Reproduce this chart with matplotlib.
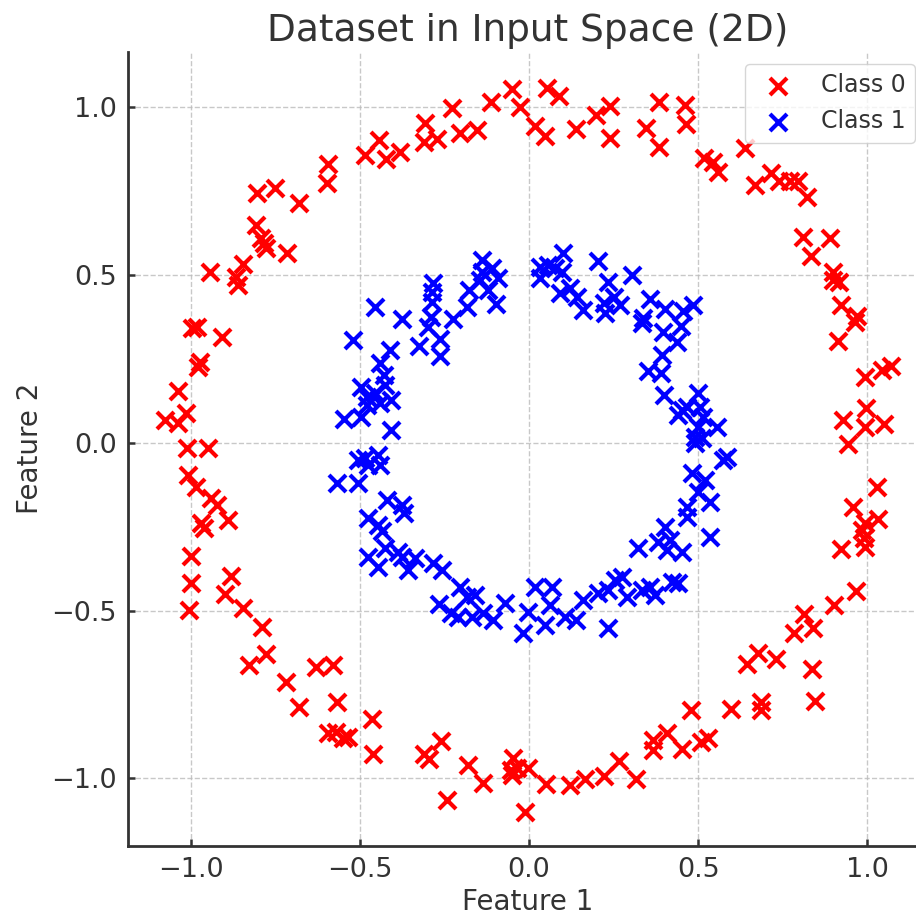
import matplotlib.pyplot as plt
import numpy as np

# Class 0 (outer ring)
class0_x = [
    -0.050, -0.027, 0.018, 0.047, 0.053, 0.089, 0.139, 0.198, 0.239, 0.239,
    0.346, 0.384, 0.384, 0.461, 0.464, 0.517, 0.544, 0.558, 0.638, 0.668,
    0.715, 0.739, 0.771, 0.795, 0.821, 0.809, 0.889, 0.833, 0.898, 0.898,
    0.916, 0.922, 0.969, 0.963, 0.913, 0.993, 1.043, 1.069, 0.996, 0.928,
    0.993, 1.049, 0.942, 1.028, 0.957, 1.031, 0.993, 0.984, 0.990, 0.993,
    0.922, 0.966, 0.901, 0.812, 0.839, 0.783, 0.836, 0.845, 0.644, 0.677,
    0.730, 0.685, 0.685, 0.597, 0.479, 0.508, 0.529, 0.452, 0.408, 0.366,
    0.366, 0.316, 0.266, 0.222, 0.165, 0.121, 0.050, -0.012, -0.003, -0.047,
    -0.053, -0.035, -0.050, -0.136, -0.180, -0.242, -0.260, -0.310, -0.295, -0.461,
    -0.464, -0.535, -0.549, -0.570, -0.594, -0.567, -0.579, -0.629, -0.679, -0.718,
    -0.777, -0.827, -0.789, -0.845, -1.004, -0.898, -0.880, -0.999, -0.999, -0.889,
    -0.969, -0.960, -0.922, -0.939, -0.984, -1.007, -1.010, -0.948, -1.075, -1.037,
    -1.013, -1.037, -0.972, -0.978, -0.907, -0.996, -0.981, -0.860, -0.866, -0.845,
    -0.942, -0.715, -0.777, -0.783, -0.792, -0.807, -0.679, -0.804, -0.750, -0.594,
    -0.597, -0.484, -0.443, -0.422, -0.381, -0.310, -0.307, -0.272, -0.227, -0.204,
    -0.154, -0.112,
]
class0_y = [
    1.055, 1.001, 0.945, 0.915, 1.058, 1.034, 0.936, 0.978, 1.004, 0.909,
    0.939, 1.016, 0.882, 1.007, 0.951, 0.849, 0.838, 0.808, 0.879, 0.769,
    0.805, 0.781, 0.781, 0.781, 0.733, 0.614, 0.611, 0.557, 0.510, 0.486,
    0.480, 0.411, 0.379, 0.361, 0.304, 0.197, 0.218, 0.230, 0.104, 0.069,
    0.048, 0.057, -0.002, -0.131, -0.191, -0.227, -0.238, -0.259, -0.283, -0.310,
    -0.316, -0.441, -0.483, -0.510, -0.551, -0.566, -0.674, -0.769, -0.659, -0.626,
    -0.644, -0.772, -0.796, -0.793, -0.796, -0.891, -0.879, -0.912, -0.864, -0.885,
    -0.915, -1.001, -0.948, -0.993, -1.001, -1.019, -1.016, -1.100, -0.969, -0.939,
    -0.975, -0.969, -0.990, -1.013, -0.960, -1.064, -0.888, -0.927, -0.942, -0.927,
    -0.823, -0.876, -0.879, -0.861, -0.864, -0.772, -0.662, -0.668, -0.787, -0.712,
    -0.629, -0.662, -0.548, -0.492, -0.498, -0.450, -0.396, -0.417, -0.337, -0.230,
    -0.239, -0.253, -0.185, -0.164, -0.131, -0.095, -0.015, -0.015, 0.069, 0.060,
    0.089, 0.155, 0.241, 0.227, 0.316, 0.343, 0.346, 0.471, 0.495, 0.534,
    0.510, 0.566, 0.581, 0.596, 0.611, 0.650, 0.715, 0.745, 0.760, 0.832,
    0.775, 0.858, 0.903, 0.846, 0.867, 0.897, 0.954, 0.906, 0.998, 0.924,
    0.933, 1.016,
]

# Class 1 (inner ring)
class1_x = [
    -0.547, -0.496, -0.520, -0.455, -0.375, -0.408, -0.496, -0.479, -0.479, -0.455,
    -0.440, -0.425, -0.428, -0.440, -0.411, -0.408, -0.325, -0.298, -0.263, -0.263,
    -0.290, -0.287, -0.287, -0.284, -0.225, -0.183, -0.177, -0.139, -0.139, -0.109,
    -0.092, -0.145, -0.121, -0.097, 0.032, 0.056, 0.077, 0.100, 0.097, 0.032,
    0.092, 0.121, 0.142, 0.160, 0.204, 0.233, 0.304, 0.222, 0.225, 0.251,
    0.269, 0.337, 0.334, 0.357, 0.402, 0.455, 0.484, 0.449, 0.396, 0.437,
    0.393, 0.352, 0.390, 0.399, 0.452, 0.467, 0.440, 0.499, 0.505, 0.514,
    0.499, 0.555, 0.490, 0.511,
    -0.567, -0.505, -0.505, -0.484, -0.446, -0.476, -0.440, -0.419, -0.375, -0.369,
    -0.476, -0.446, -0.434, -0.476, -0.446, -0.425, -0.387, -0.375, -0.357, -0.337,
    -0.284, -0.257, -0.266, -0.230, -0.210, -0.204, -0.183, -0.160, -0.168, -0.136,
    -0.106, -0.071, -0.018, -0.003, 0.018, 0.068, 0.062, 0.047, 0.106, 0.139,
    0.160, 0.204, 0.233, 0.254, 0.275, 0.290, 0.233, 0.322, 0.334, 0.357,
    0.372, 0.422, 0.440, 0.381, 0.402, 0.408, 0.452, 0.417, 0.467, 0.467,
    0.482, 0.499, 0.535, 0.520, 0.535, 0.573, 0.585, 0.490,
]
class1_y = [
    0.072, 0.077, 0.307, 0.405, 0.370, 0.039, 0.167, 0.137, 0.113, 0.149,
    0.119, 0.173, 0.203, 0.238, 0.277, 0.128, 0.289, 0.346, 0.310, 0.259,
    0.376, 0.420, 0.450, 0.477, 0.370, 0.405, 0.456, 0.545, 0.510, 0.522,
    0.492, 0.486, 0.456, 0.414, 0.525, 0.531, 0.522, 0.566, 0.510, 0.492,
    0.447, 0.462, 0.435, 0.396, 0.542, 0.480, 0.501, 0.417, 0.387, 0.435,
    0.411, 0.373, 0.358, 0.429, 0.399, 0.393, 0.411, 0.349, 0.331, 0.301,
    0.262, 0.215, 0.209, 0.143, 0.098, 0.107, 0.083, 0.149, 0.107, 0.077,
    0.048, 0.048, 0.018, 0.015,
    -0.119, -0.119, -0.051, -0.045, -0.036, -0.066, -0.066, -0.170, -0.185, -0.209,
    -0.224, -0.244, -0.262, -0.340, -0.370, -0.313, -0.325, -0.340, -0.379, -0.343,
    -0.358, -0.379, -0.480, -0.507, -0.519, -0.429, -0.459, -0.453, -0.519, -0.507,
    -0.528, -0.477, -0.566, -0.504, -0.429, -0.429, -0.483, -0.542, -0.519, -0.528,
    -0.468, -0.447, -0.438, -0.408, -0.399, -0.459, -0.551, -0.313, -0.438, -0.429,
    -0.453, -0.414, -0.417, -0.295, -0.250, -0.319, -0.325, -0.289, -0.221, -0.191,
    -0.089, -0.146, -0.176, -0.110, -0.280, -0.051, -0.042, 0.000,
]

text_color = '#333333'

fig = plt.figure(figsize=(9.16, 9.18), dpi=100)
ax = fig.add_axes([0.1397, 0.0789, 0.872, 0.8644])

ax.scatter(class0_x, class0_y, marker='x', color='red', s=150, linewidths=3, label='Class 0', zorder=3)
ax.scatter(class1_x, class1_y, marker='x', color='blue', s=150, linewidths=3, label='Class 1', zorder=3)

ax.set_xlim(-1.185, 1.175)
ax.set_ylim(-1.2, 1.165)
ax.set_xticks([-1.0, -0.5, 0.0, 0.5, 1.0])
ax.set_yticks([-1.0, -0.5, 0.0, 0.5, 1.0])

ax.grid(True, linestyle='--', color='#bbbbbb', linewidth=1.0, alpha=0.8)
ax.set_axisbelow(True)

for side in ['top', 'right']:
    ax.spines[side].set_visible(False)
for side in ['left', 'bottom']:
    ax.spines[side].set_color(text_color)
    ax.spines[side].set_linewidth(2)

ax.tick_params(direction='in', length=5, width=1.8, colors=text_color, labelsize=19.5, pad=8)

ax.set_title('Dataset in Input Space (2D)', fontsize=27, color=text_color, pad=8)
ax.set_xlabel('Feature 1', fontsize=20, color=text_color, labelpad=4)
ax.set_ylabel('Feature 2', fontsize=20, color=text_color, labelpad=5)

leg = ax.legend(loc='upper right', fontsize=17, borderaxespad=0.5, framealpha=0.8)
for t in leg.get_texts():
    t.set_color(text_color)

fig.savefig('out.png', dpi=100)
